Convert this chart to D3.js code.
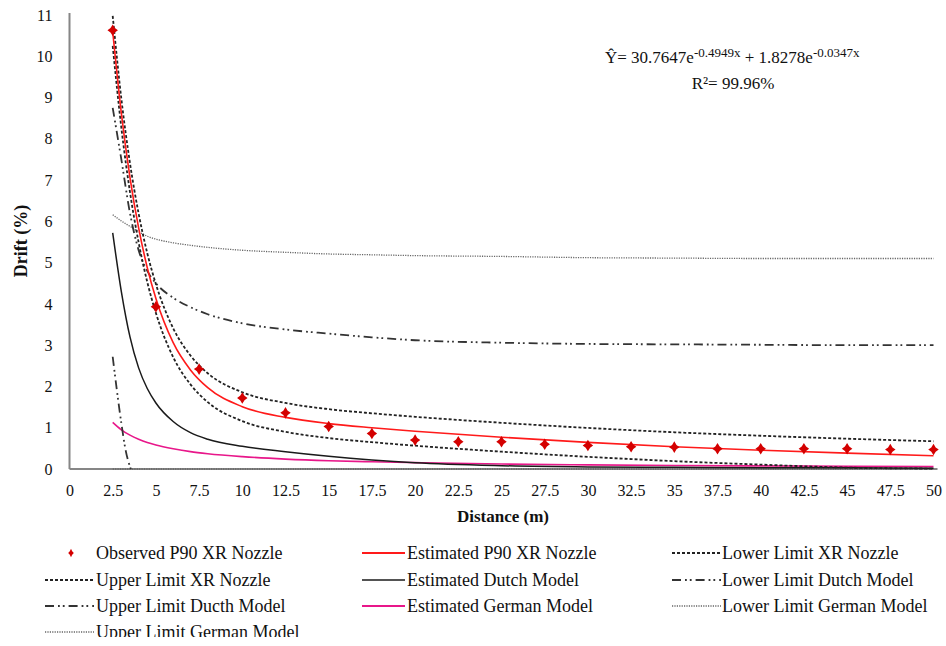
<!DOCTYPE html>
<html>
<head>
<meta charset="utf-8">
<script src="https://cdn.jsdelivr.net/npm/d3@7"></script>
<style>
  html, body { margin: 0; padding: 0; background: #fff; }
  svg { display: block; }
  text { font-family: "Liberation Serif", "Times New Roman", serif; fill: #111; }
</style>
</head>
<body>
<svg id="chart" width="946" height="646"></svg>
<script>
// ---------- data ----------
const xTicks = [0, 2.5, 5, 7.5, 10, 12.5, 15, 17.5, 20, 22.5, 25, 27.5, 30, 32.5, 35, 37.5, 40, 42.5, 45, 47.5, 50];
const yTicks = [0, 1, 2, 3, 4, 5, 6, 7, 8, 9, 10, 11];

const obsX = [2.5, 5, 7.5, 10, 12.5, 15, 17.5, 20, 22.5, 25, 27.5, 30, 32.5, 35, 37.5, 40, 42.5, 45, 47.5, 50];
const obsY = [10.63, 3.93, 2.42, 1.72, 1.36, 1.03, 0.86, 0.70, 0.66, 0.66, 0.60, 0.57, 0.54, 0.53, 0.49, 0.49, 0.49, 0.49, 0.47, 0.47];

const curveX      = [2.5, 3, 3.5, 4, 4.5, 5, 6, 7, 8, 10, 12.5, 15, 17.5, 20, 25, 30, 35, 40, 45, 50];
const estXR       = [10.60, 8.62, 7.06, 5.84, 4.88, 4.13, 3.06, 2.40, 1.97, 1.51, 1.25, 1.10, 1.00, 0.915, 0.77, 0.645, 0.54, 0.456, 0.384, 0.322];
const upperXR     = [10.98, 8.97, 7.41, 6.19, 5.23, 4.48, 3.41, 2.75, 2.32, 1.86, 1.60, 1.45, 1.35, 1.265, 1.12, 0.995, 0.89, 0.806, 0.734, 0.672];
const lowerXR     = [10.25, 8.27, 6.71, 5.49, 4.53, 3.78, 2.71, 2.05, 1.62, 1.16, 0.90, 0.75, 0.65, 0.565, 0.42, 0.295, 0.19, 0.106, 0.034, 0.01];
const estDutch    = [5.72, 4.30, 3.20, 2.45, 1.95, 1.60, 1.15, 0.88, 0.72, 0.55, 0.42, 0.31, 0.22, 0.15, 0.08, 0.05, 0.04, 0.03, 0.03, 0.02];
const upperDutch  = [8.75, 7.50, 6.20, 5.30, 4.80, 4.50, 4.15, 3.92, 3.75, 3.53, 3.38, 3.28, 3.19, 3.12, 3.06, 3.03, 3.02, 3.01, 3.00, 3.00];
const estGerman   = [1.13, 0.95, 0.82, 0.72, 0.64, 0.58, 0.49, 0.42, 0.37, 0.30, 0.24, 0.20, 0.175, 0.155, 0.12, 0.10, 0.085, 0.075, 0.066, 0.058];
const upperGerman = [6.16, 6.01, 5.88, 5.75, 5.64, 5.57, 5.48, 5.42, 5.37, 5.30, 5.25, 5.21, 5.19, 5.17, 5.15, 5.12, 5.11, 5.10, 5.10, 5.10];
const lowerGerman = [0, 0, 0, 0, 0, 0, 0, 0, 0, 0, 0, 0, 0, 0, 0, 0, 0, 0, 0, 0];

const lowerDutchX = [2.5, 2.75, 3, 3.25, 3.55];
const lowerDutch  = [2.72, 1.88, 1.11, 0.45, 0];

const legendLabels = [
  "Observed P90 XR Nozzle", "Estimated P90 XR Nozzle", "Lower Limit XR Nozzle",
  "Upper Limit XR Nozzle", "Estimated Dutch Model", "Lower Limit Dutch Model",
  "Upper Limit Ducth Model", "Estimated German Model", "Lower Limit German Model",
  "Upper Limit German Model"
];

// ---------- styles ----------
const ST = {
  obs:    { color: "#d40000" },
  estXR:  { stroke: "#ff1a1a", width: 1.6, dash: null },
  limXR:  { stroke: "#222", width: 1.8, dash: "3,2" },
  dutch:  { stroke: "#1a1a1a", width: 1.5, dash: null },
  limDutch: { stroke: "#333", width: 1.8, dash: "9,4,1.8,3,1.8,4" },
  german: { stroke: "#e8178a", width: 1.6, dash: null },
  limGerman: { stroke: "#666", width: 1.3, dash: "1.2,1.2" }
};

const svg = d3.select("#chart");
const x = d3.scaleLinear().domain([0, 50]).range([69.5, 933.5]);
const y = d3.scaleLinear().domain([0, 11]).range([469, 15]);

// 4-point star marker
const star4 = {
  draw(ctx, size) {
    const R = Math.sqrt(size) / 2, r = R * 0.42;
    ctx.moveTo(0, -R * 1.1);
    ctx.lineTo(r, -r);
    ctx.lineTo(R, 0);
    ctx.lineTo(r, r);
    ctx.lineTo(0, R * 1.1);
    ctx.lineTo(-r, r);
    ctx.lineTo(-R, 0);
    ctx.lineTo(-r, -r);
    ctx.closePath();
  }
};

// axes
const gx = svg.append("g").attr("transform", `translate(0,${y(0)})`)
  .call(d3.axisBottom(x).tickValues(xTicks).tickSize(0).tickSizeOuter(0).tickPadding(16)
        .tickFormat(d => String(d)));
gx.select(".domain").attr("stroke", "#868686").attr("stroke-width", 2)
  .attr("d", `M${x(0)},0H${x(50) + 4}`);
gx.selectAll("text").attr("font-size", 16).attr("font-family", "Liberation Serif").attr("fill", "#111");

const gy = svg.append("g").attr("transform", `translate(${x(0)},0)`)
  .call(d3.axisLeft(y).tickValues(yTicks).tickSize(0).tickSizeOuter(0).tickPadding(17)
        .tickFormat(d => String(d)));
gy.select(".domain").attr("stroke", "#868686").attr("stroke-width", 2)
  .attr("d", `M0,${y(0)}V${y(11) - 2}`);
gy.selectAll("text").attr("font-size", 16).attr("font-family", "Liberation Serif").attr("fill", "#111");

// axis titles
svg.append("text").attr("x", 503).attr("y", 522).attr("text-anchor", "middle")
  .attr("font-size", 17).attr("font-weight", "bold").text("Distance (m)");
svg.append("text").attr("transform", "translate(27,241) rotate(-90)").attr("text-anchor", "middle")
  .attr("font-size", 18).attr("font-weight", "bold").text("Drift (%)");

// lines
const line = (xs) => d3.line().x((d, i) => x(xs[i])).y(d => y(d)).curve(d3.curveMonotoneX);
function drawLine(xs, ys, st) {
  const p = svg.append("path").datum(ys).attr("fill", "none")
    .attr("stroke", st.stroke).attr("stroke-width", st.width).attr("d", line(xs));
  if (st.dash) p.attr("stroke-dasharray", st.dash);
}
drawLine(curveX, lowerGerman, ST.limGerman);
drawLine(curveX, upperGerman, ST.limGerman);
drawLine(curveX, estGerman, ST.german);
drawLine(curveX, estDutch, ST.dutch);
drawLine(lowerDutchX, lowerDutch, ST.limDutch);
drawLine(curveX, upperDutch, ST.limDutch);
drawLine(curveX, lowerXR, ST.limXR);
drawLine(curveX, upperXR, ST.limXR);
drawLine(curveX, estXR, ST.estXR);

// observed points
const marker = d3.symbol().type(star4).size(110);
svg.append("g").selectAll("path").data(obsY).join("path")
  .attr("d", marker)
  .attr("transform", (d, i) => `translate(${x(obsX[i])},${y(d)})`)
  .attr("fill", ST.obs.color);

// equation
const eq = svg.append("text").attr("x", 605).attr("y", 63).attr("font-size", 17);
eq.append("tspan").text("Ŷ= 30.7647e");
eq.append("tspan").attr("font-size", 13).attr("dy", -6).text("-0.4949x");
eq.append("tspan").attr("dy", 6).text("  + 1.8278e");
eq.append("tspan").attr("font-size", 13).attr("dy", -6).text("-0.0347x");
svg.append("text").attr("x", 733).attr("y", 89).attr("text-anchor", "middle").attr("font-size", 17).text("R²= 99.96%");

// legend
svg.append("clipPath").attr("id", "legclip").append("rect").attr("x", 0).attr("y", 530).attr("width", 946).attr("height", 107);
const leg = svg.append("g").attr("clip-path", "url(#legclip)");
const rowsY = [553, 580, 606, 632];
const cols = [
  { lx0: 45, lx1: 94, tx: 96 },
  { lx0: 362, lx1: 405, tx: 407 },
  { lx0: 672, lx1: 721, tx: 722 }
];
const legStyles = [null, ST.estXR, ST.limXR, ST.limXR, ST.dutch, ST.limDutch, ST.limDutch, ST.german, ST.limGerman, ST.limGerman];
legendLabels.forEach((lab, i) => {
  const r = Math.floor(i / 3), c = i % 3;
  const cy = rowsY[r], col = cols[c];
  const st = legStyles[i];
  if (st === null) {
    leg.append("path").attr("d", d3.symbol().type(star4).size(50))
      .attr("transform", `translate(71,${cy}) scale(0.8,1.1)`).attr("fill", ST.obs.color);
  } else {
    const l = leg.append("line").attr("x1", col.lx0).attr("x2", col.lx1).attr("y1", cy).attr("y2", cy)
      .attr("stroke", st.stroke).attr("stroke-width", st.width === 1.6 ? 2.2 : st.width);
    if (st.dash) l.attr("stroke-dasharray", st.dash);
  }
  leg.append("text").attr("x", col.tx).attr("y", cy + 6).attr("font-size", 18).text(lab);
});
</script>
</body>
</html>
